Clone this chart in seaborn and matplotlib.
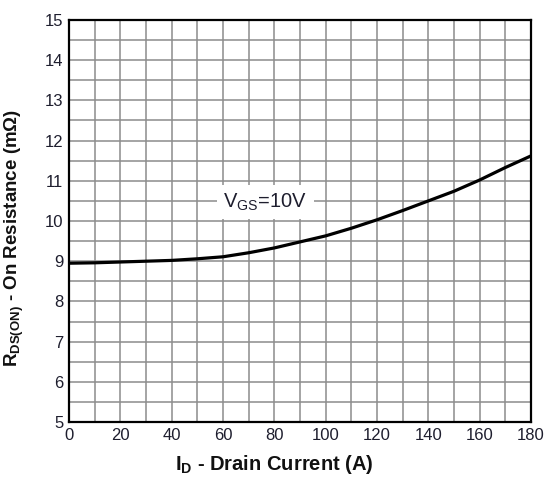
import matplotlib
matplotlib.use("Agg")
import matplotlib.pyplot as plt
import seaborn as sns
import pandas as pd
from matplotlib.ticker import MultipleLocator

# Data
drain_current = [0, 10, 20, 30, 40, 50, 60, 70, 80, 90, 100, 110, 120, 130, 140, 150, 160, 170, 180]
on_resistance = [8.95, 8.96, 8.98, 9.00, 9.02, 9.06, 9.11, 9.21, 9.33, 9.48, 9.63, 9.82, 10.03, 10.26, 10.50, 10.74, 11.02, 11.33, 11.62]
x_ticks = [0, 20, 40, 60, 80, 100, 120, 140, 160, 180]
y_ticks = [5, 6, 7, 8, 9, 10, 11, 12, 13, 14, 15]

sns.set_style("white")
plt.rcParams['font.family'] = ['Liberation Sans', 'DejaVu Sans']
plt.rcParams['mathtext.default'] = 'regular'

df = pd.DataFrame({"Id": drain_current, "R": on_resistance})

fig = plt.figure(figsize=(5.47, 4.79), dpi=100)
ax = fig.add_axes([69/547, 57/479, 462/547, 402/479])

sns.lineplot(data=df, x="Id", y="R", ax=ax, color="black", linewidth=2.3, zorder=5)

ax.set_xlim(0, 180)
ax.set_ylim(5, 15)
ax.set_xticks(x_ticks)
ax.set_yticks(y_ticks)
ax.xaxis.set_minor_locator(MultipleLocator(10))
ax.yaxis.set_minor_locator(MultipleLocator(0.5))
ax.grid(True, which="both", color="#8c8c8c", linewidth=1.1)
ax.tick_params(which="both", length=0, labelsize=12, labelcolor="#1e1e2e", pad=4)

for s in ax.spines.values():
    s.set_color("black")
    s.set_linewidth(1.6)
    s.set_visible(True)

ax.set_xlabel("I$_{D}$ - Drain Current (A)", fontsize=14.5, fontweight="bold", color="#111111")
ax.xaxis.set_label_coords(0.444, -0.077)
ax.set_ylabel("R$_{DS(ON)}$ - On Resistance (m\u03a9)", fontsize=13.5, fontweight="bold", color="#111111")
ax.yaxis.set_label_coords(-0.094, 0.459)

ax.text(76.5, 10.47, "V$_{GS}$=10V", fontsize=14.5, color="#1e1e2e", ha="center", va="center",
        bbox=dict(facecolor="white", edgecolor="none", pad=4.5), zorder=6)

fig.savefig("out.png", dpi=100)
